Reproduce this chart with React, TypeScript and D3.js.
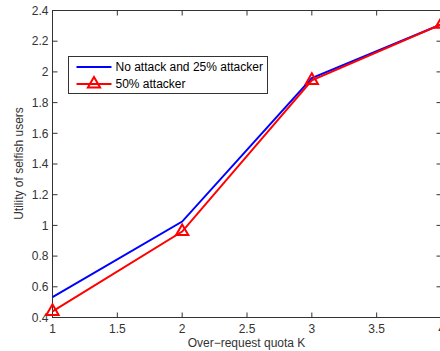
import * as d3 from "d3";
import { useEffect, useRef } from "react";

const WIDTH = 440;
const HEIGHT = 351;
const MARGIN = { top: 10, right: -1, bottom: 34, left: 52 };
const INNER_W = WIDTH - MARGIN.left - MARGIN.right;
const INNER_H = HEIGHT - MARGIN.top - MARGIN.bottom;

const quotaK = [1, 2, 3, 4];
const noAttack = [0.532, 1.025, 1.96, 2.31];
const attacker50 = [0.44, 0.96, 1.945, 2.31];

const xTicks = [1, 1.5, 2, 2.5, 3, 3.5, 4];
const yTicks = [0.4, 0.6, 0.8, 1, 1.2, 1.4, 1.6, 1.8, 2, 2.2, 2.4];

const seriesNames = ["No attack and 25% attacker", "50% attacker"];
const FONT = "Liberation Sans, Arial, sans-serif";
const AXIS_COLOR = "#333333";
const FS = 12;

export default function App() {
  const svgRef = useRef<SVGSVGElement>(null);

  useEffect(() => {
    const svg = d3.select(svgRef.current);
    svg.selectAll("*").remove();

    const x = d3.scaleLinear().domain([1, 4]).range([0, INNER_W]);
    const y = d3.scaleLinear().domain([0.4, 2.4]).range([INNER_H, 0]);

    const g = svg.append("g").attr("transform", `translate(${MARGIN.left + 0.5},${MARGIN.top + 0.5})`);

    // box
    g.append("rect")
      .attr("x", 0)
      .attr("y", 0)
      .attr("width", INNER_W)
      .attr("height", INNER_H)
      .attr("fill", "white")
      .attr("stroke", AXIS_COLOR)
      .attr("stroke-width", 1);

    const TL = 5;
    // ticks on all four sides, pointing inward
    xTicks.forEach((t) => {
      g.append("line").attr("x1", x(t)).attr("x2", x(t)).attr("y1", INNER_H).attr("y2", INNER_H - TL).attr("stroke", AXIS_COLOR);
      g.append("line").attr("x1", x(t)).attr("x2", x(t)).attr("y1", 0).attr("y2", TL).attr("stroke", AXIS_COLOR);
    });
    yTicks.forEach((t) => {
      g.append("line").attr("x1", 0).attr("x2", TL).attr("y1", y(t)).attr("y2", y(t)).attr("stroke", AXIS_COLOR);
      g.append("line").attr("x1", INNER_W).attr("x2", INNER_W - TL).attr("y1", y(t)).attr("y2", y(t)).attr("stroke", AXIS_COLOR);
    });

    g.append("g")
      .selectAll("text")
      .data(xTicks)
      .join("text")
      .attr("x", (d) => x(d))
      .attr("y", INNER_H + 15)
      .attr("text-anchor", "middle")
      .attr("font-family", FONT)
      .attr("font-size", FS)
      .attr("fill", AXIS_COLOR)
      .text((d) => String(d));

    g.append("g")
      .selectAll("text")
      .data(yTicks)
      .join("text")
      .attr("x", -4)
      .attr("y", (d) => y(d))
      .attr("dy", "0.35em")
      .attr("text-anchor", "end")
      .attr("font-family", FONT)
      .attr("font-size", FS)
      .attr("fill", AXIS_COLOR)
      .text((d) => String(d));

    // axis labels
    svg.append("text")
      .attr("x", MARGIN.left + INNER_W / 2)
      .attr("y", 347)
      .attr("text-anchor", "middle")
      .attr("font-family", FONT)
      .attr("font-size", FS)
      .attr("fill", AXIS_COLOR)
      .text("Over\u2212request quota K");

    svg.append("text")
      .attr("transform", `translate(23,${MARGIN.top + INNER_H / 2}) rotate(-90)`)
      .attr("text-anchor", "middle")
      .attr("font-family", FONT)
      .attr("font-size", FS)
      .attr("fill", AXIS_COLOR)
      .text("Utility of selfish users");

    const line = d3
      .line<number>()
      .x((_, i) => x(quotaK[i]))
      .y((d) => y(d));

    g.append("path")
      .attr("d", line(noAttack) ?? "")
      .attr("fill", "none")
      .attr("stroke", "#0000ff")
      .attr("stroke-width", 2);

    g.append("path")
      .attr("d", line(attacker50) ?? "")
      .attr("fill", "none")
      .attr("stroke", "#ff0000")
      .attr("stroke-width", 2);

    const tri = d3.symbol().type(d3.symbolTriangle).size(65);
    g.append("g")
      .selectAll("path")
      .data(attacker50)
      .join("path")
      .attr("transform", (d, i) => `translate(${x(quotaK[i])},${y(d)})`)
      .attr("d", tri() ?? "")
      .attr("fill", "none")
      .attr("stroke", "#ff0000")
      .attr("stroke-width", 2);

    // legend
    const lg = svg.append("g").attr("transform", "translate(68.5,56.5)");
    lg.append("rect")
      .attr("width", 199)
      .attr("height", 37)
      .attr("fill", "white")
      .attr("stroke", AXIS_COLOR);
    const colors = ["#0000ff", "#ff0000"];
    seriesNames.forEach((name, i) => {
      const cy = 10.5 + i * 17;
      lg.append("line")
        .attr("x1", 8)
        .attr("x2", 43)
        .attr("y1", cy)
        .attr("y2", cy)
        .attr("stroke", colors[i])
        .attr("stroke-width", 2);
      if (i === 1) {
        lg.append("path")
          .attr("transform", `translate(25.5,${cy})`)
          .attr("d", tri() ?? "")
          .attr("fill", "none")
          .attr("stroke", colors[i])
          .attr("stroke-width", 2);
      }
      lg.append("text")
        .attr("x", 47)
        .attr("y", cy)
        .attr("dy", "0.35em")
        .attr("font-family", FONT)
        .attr("font-size", FS)
        .attr("fill", "#000")
        .text(name);
    });
  }, []);

  return (
    <svg
      ref={svgRef}
      width={WIDTH}
      height={HEIGHT}
      viewBox={`0 0 ${WIDTH} ${HEIGHT}`}
      style={{ position: "absolute", left: 0, top: 0, background: "white" }}
    />
  );
}
